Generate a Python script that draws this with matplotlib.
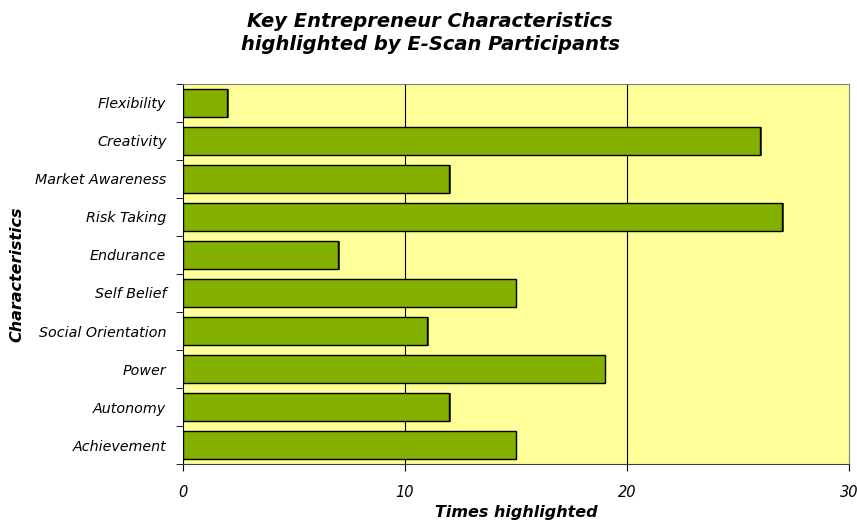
import matplotlib.pyplot as plt

categories = ["Achievement", "Autonomy", "Power", "Social Orientation", "Self Belief",
              "Endurance", "Risk Taking", "Market Awareness", "Creativity", "Flexibility"]
times = [15, 12, 19, 11, 15, 7, 27, 12, 26, 2]
x_ticks = [0, 10, 20, 30]

plt.rcParams['font.family'] = ['DejaVu Sans']

fig = plt.figure(figsize=(8.57, 5.24), dpi=100)
ax = fig.add_axes([0.2135, 0.1145, 0.777, 0.7252])
ax.set_facecolor("#FFFF99")

pos = range(len(categories))
# slight drop shadow like the original
ax.barh([p - 0.02 for p in pos], times, height=0.76, left=0.07, color="#4a5a10", zorder=2)
ax.barh(pos, times, height=0.76, color="#84B000", edgecolor="black", linewidth=1, zorder=3)

ax.set_xlim(0, 30)
ax.set_ylim(-0.5, len(categories) - 0.5)
ax.set_xticks(x_ticks)
ax.set_xticklabels([str(t) for t in x_ticks], fontsize=10.5, style="italic")
for t in x_ticks[1:-1]:
    ax.axvline(t, color="black", linewidth=0.8, zorder=1)

ax.set_yticks(list(pos))
ax.set_yticklabels(categories, fontsize=10.3, style="italic")
ax.set_yticks([p + 0.5 for p in range(-1, len(categories))], minor=True)
ax.tick_params(axis="y", which="major", length=0, pad=12)
ax.tick_params(axis="y", which="minor", length=5, color="black")
ax.tick_params(axis="x", length=5, pad=10)

for side in ["top", "right"]:
    ax.spines[side].set_color("#808080")
ax.spines["bottom"].set_color("#404040")
ax.spines["left"].set_color("black")

ax.set_xlabel("Times highlighted", fontsize=11.5, fontweight="bold", style="italic", labelpad=4)
ax.set_ylabel("Characteristics", fontsize=11.5, fontweight="bold", style="italic")
ax.yaxis.set_label_coords(-0.238, 0.5)
fig.text(0.502, 0.937, "Key Entrepreneur Characteristics\nhighlighted by E-Scan Participants",
         ha="center", va="center", fontsize=14, fontweight="bold", style="italic",
         linespacing=1.28)

plt.savefig("out.png")
